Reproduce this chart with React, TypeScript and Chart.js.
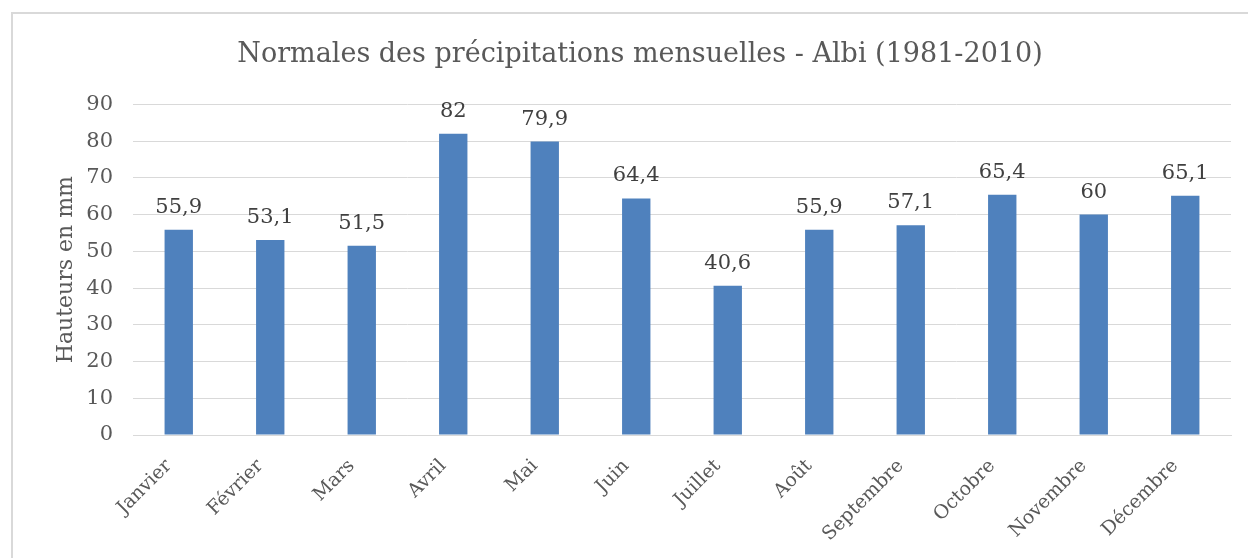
import React, { useEffect, useRef } from "react";
import { Chart, registerables } from "chart.js";

Chart.register(...registerables);

const months = ["Janvier", "Février", "Mars", "Avril", "Mai", "Juin", "Juillet", "Août", "Septembre", "Octobre", "Novembre", "Décembre"];
const precipitation = [55.9, 53.1, 51.5, 82, 79.9, 64.4, 40.6, 55.9, 57.1, 65.4, 60, 65.1];
const yMin = 0;
const yMax = 90;
const yStep = 10;
const titleText = "Normales des précipitations mensuelles - Albi (1981-2010)";
const yTitle = "Hauteurs en mm";

const FONT = "'DejaVu Serif', serif";

const labelPlugin = {
  id: "valueLabels",
  beforeDraw(chart: any) {
    const ctx = chart.ctx;
    ctx.save();
    ctx.strokeStyle = "#d9d9d9";
    ctx.lineWidth = 2;
    ctx.beginPath();
    ctx.moveTo(12, chart.height);
    ctx.lineTo(12, 13);
    ctx.lineTo(chart.width, 13);
    ctx.stroke();
    ctx.restore();
  },
  afterDatasetsDraw(chart: any) {
    const ctx = chart.ctx;
    const meta = chart.getDatasetMeta(0);
    ctx.save();
    ctx.fillStyle = "#404040";
    ctx.font = `21px ${FONT}`;
    ctx.textAlign = "center";
    ctx.textBaseline = "alphabetic";
    meta.data.forEach((bar: any, i: number) => {
      const v = precipitation[i];
      ctx.fillText(String(v).replace(".", ","), bar.x, bar.y - 17);
    });
    ctx.restore();
  },
};

export default function App() {
  const ref = useRef<HTMLCanvasElement | null>(null);
  useEffect(() => {
    if (!ref.current) return;
    const chart = new Chart(ref.current, {
      type: "bar",
      data: {
        labels: months,
        datasets: [
          {
            data: precipitation,
            backgroundColor: "#4f81bd",
            borderWidth: 0,
            barPercentage: 0.31,
            categoryPercentage: 1,
          },
        ],
      },
      options: {
        animation: false,
        responsive: false,
        maintainAspectRatio: false,
        layout: { padding: { left: 49, right: 17, top: 0, bottom: 0 } },
        plugins: {
          legend: { display: false },
          tooltip: { enabled: false },
          title: {
            display: true,
            text: titleText,
            color: "#595959",
            font: { family: FONT, size: 27, weight: "normal" },
            padding: { top: 39, bottom: 33 },
          },
        },
        scales: {
          x: {
            grid: { display: false, drawTicks: false },
            border: { color: "#d9d9d9", width: 1 },
            ticks: {
              color: "#595959",
              font: { family: FONT, size: 19 },
              maxRotation: 45,
              minRotation: 45,
              padding: 20,
              labelOffset: -10,
              autoSkip: false,
            },
            afterFit(scale: any) {
              scale.height = 123;
            },
          },
          y: {
            min: yMin,
            max: yMax,
            ticks: {
              stepSize: yStep,
              color: "#595959",
              font: { family: FONT, size: 21 },
              padding: 20,
            },
            grid: { color: "#d9d9d9", drawTicks: false },
            border: { display: false },
            title: {
              display: true,
              text: yTitle,
              color: "#595959",
              font: { family: FONT, size: 22, weight: "normal" },
            },
            afterFit(scale: any) {
              scale.width = 84;
            },
          },
        },
      },
      plugins: [labelPlugin],
    });
    return () => chart.destroy();
  }, []);

  return (
    <div style={{ position: "fixed", left: 0, top: 0, width: 1248, height: 558, background: "#fff", overflow: "hidden" }}>
      <canvas ref={ref} width={1248} height={558} style={{ position: "absolute", left: 0, top: 0 }} />
    </div>
  );
}
